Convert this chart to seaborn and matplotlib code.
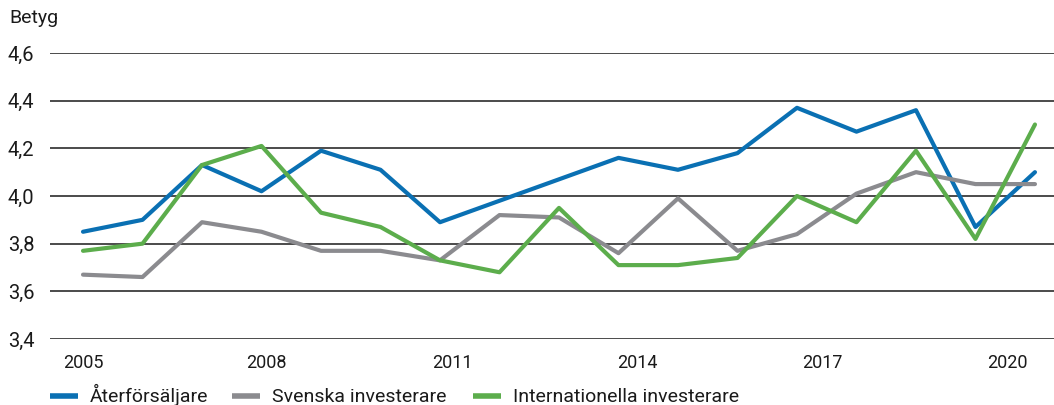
import pandas as pd
import matplotlib
matplotlib.use("Agg")
import matplotlib.pyplot as plt
import seaborn as sns
from matplotlib.ticker import FuncFormatter
from matplotlib.lines import Line2D

# survey rounds (17 measurements, 2005 -> 2020)
rounds = list(range(17))
aterforsaljare = [3.85, 3.90, 4.13, 4.02, 4.19, 4.11, 3.89, 3.98, 4.07, 4.16,
                  4.11, 4.18, 4.37, 4.27, 4.36, 3.87, 4.10]
svenska = [3.67, 3.66, 3.89, 3.85, 3.77, 3.77, 3.73, 3.92, 3.91, 3.76,
           3.99, 3.77, 3.84, 4.01, 4.10, 4.05, 4.05]
internationella = [3.77, 3.80, 4.13, 4.21, 3.93, 3.87, 3.73, 3.68, 3.95, 3.71,
                   3.71, 3.74, 4.00, 3.89, 4.19, 3.82, 4.30]

series_names = ["Återförsäljare", "Svenska investerare", "Internationella investerare"]
year_labels = ["2005", "2008", "2011", "2014", "2017", "2020"]
year_pos = [0, 3.09, 6.2, 9.31, 12.42, 15.53]
y_ticks = [3.4, 3.6, 3.8, 4.0, 4.2, 4.4, 4.6]

colors = ["#0a70b3", "#8b8b8f", "#5cad4c"]

df = pd.concat([
    pd.DataFrame({"x": rounds, "value": vals, "serie": name})
    for name, vals in zip(series_names, [aterforsaljare, svenska, internationella])
])

sns.set_theme(style="white")
plt.rcParams["font.family"] = ["Roboto", "DejaVu Sans"]

W, H = 1054, 405
fig = plt.figure(figsize=(W / 100, H / 100), dpi=100)
ax = fig.add_axes([50 / W, 66 / H, 1 - 50 / W, (339 - 53) / H])

for y in y_ticks:
    ax.axhline(y, color="#1a1a1a", lw=1.1, zorder=1)

sns.lineplot(data=df, x="x", y="value", hue="serie", palette=colors,
             hue_order=series_names, linewidth=3.0, ax=ax, zorder=3,
             legend=False)

ax.set_xlim(-0.555, 16.32)
ax.set_ylim(3.4, 4.6)
ax.set_yticks(y_ticks)
ax.yaxis.set_major_formatter(FuncFormatter(lambda v, p: f"{v:.1f}".replace(".", ",")))
ax.set_xticks(year_pos)
ax.set_xticklabels(year_labels)
ax.tick_params(axis="y", labelsize=14.5, pad=0, length=0, colors="#1a1a1a")
ax.tick_params(axis="x", labelsize=13, pad=11, length=0, colors="#1a1a1a")
for lbl in ax.get_yticklabels():
    lbl.set_horizontalalignment("left")
    lbl.set_x(-42 / 1004)
for side in ax.spines.values():
    side.set_visible(False)
ax.set_xlabel("")
ax.set_ylabel("")
ax.grid(False)

fig.text(9 / W, 1 - 18 / H, "Betyg", fontsize=14, va="center", ha="left", color="#1a1a1a")

# legend row drawn by hand so all labels share one baseline
legend_x = [50, 232, 473]
for name, c, lx in zip(series_names, colors, legend_x):
    fig.add_artist(Line2D([lx / W, (lx + 28) / W], [1 - 396 / H, 1 - 396 / H],
                          color=c, lw=4, solid_capstyle="butt", transform=fig.transFigure))
    fig.text((lx + 40) / W, 1 - 402 / H, name, fontsize=14, va="baseline", ha="left",
             color="#1a1a1a")

fig.savefig("out.png", dpi=100)
